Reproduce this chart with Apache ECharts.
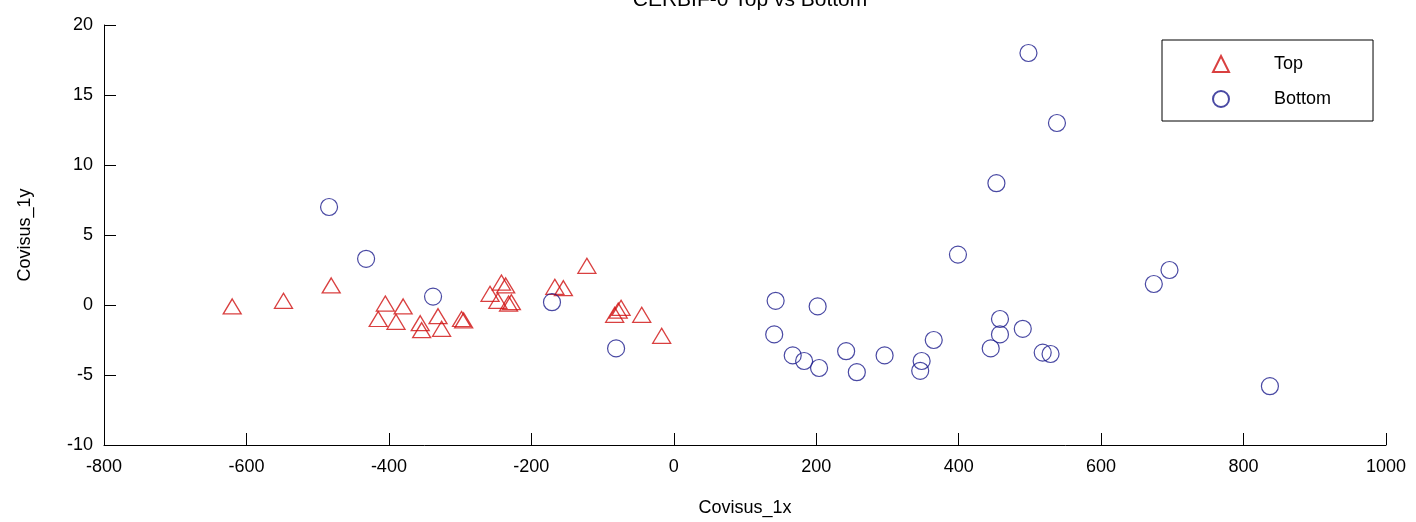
<!DOCTYPE html>
<html>
<head>
<meta charset="utf-8">
<script src="https://cdn.jsdelivr.net/npm/echarts@6/dist/echarts.min.js"></script>
<style>
  html, body { margin: 0; padding: 0; background: #fff; }
  #chart { width: 1416px; height: 522px; }
</style>
</head>
<body>
<div id="chart"></div>
<script>
// values
var topPoints = [
  [-620, -0.1], [-548, 0.3], [-481, 1.4], [-405, 0.1], [-380, -0.1],
  [-415, -1.0], [-390, -1.2], [-356, -1.3], [-354, -1.8], [-331, -0.8],
  [-326, -1.7], [-298, -1.0], [-295, -1.1], [-258, 0.8], [-242, 1.6],
  [-236, 1.4], [-247, 0.3], [-232, 0.1], [-228, 0.2], [-167, 1.3],
  [-155, 1.2], [-122, 2.8], [-83, -0.7], [-78, -0.4], [-74, -0.2],
  [-45, -0.7], [-17, -2.2]
];
var bottomPoints = [
  [-484, 7.0], [-432, 3.3], [-338, 0.6], [-171, 0.2], [-81, -3.1],
  [143, 0.3], [202, -0.1], [141, -2.1], [167, -3.6], [183, -4.0],
  [204, -4.5], [242, -3.3], [257, -4.8], [296, -3.6], [348, -4.0],
  [346, -4.7], [365, -2.5], [399, 3.6], [453, 8.7], [498, 18.0],
  [538, 13.0], [458, -1.0], [458, -2.1], [490, -1.7], [445, -3.1],
  [518, -3.4], [529, -3.5], [674, 1.5], [696, 2.5], [837, -5.8]
];
var seriesNames = ['Top', 'Bottom'];
var xTicks = { min: -800, max: 1000, step: 200 };
var yTicks = { min: -10, max: 20, step: 5 };

var font = 'Liberation Sans, Arial, sans-serif';
var chart = echarts.init(document.getElementById('chart'));
chart.setOption({
  animation: false,
  backgroundColor: '#fff',
  title: {
    text: 'CERBIF-0 Top vs Bottom',
    left: 745,
    textAlign: 'center',
    top: -15,
    textStyle: { fontFamily: font, fontSize: 21, fontWeight: 'normal', color: '#000' }
  },
  grid: { left: 104, right: 30, top: 25, bottom: 77 },
  legend: {
    data: seriesNames,
    orient: 'vertical',
    left: 1162,
    top: 40,
    padding: [15, 42, 13, 50],
    itemWidth: 16,
    itemHeight: 16,
    itemGap: 17,
    borderColor: '#000',
    borderWidth: 1,
    backgroundColor: '#fff',
    textStyle: { fontFamily: font, fontSize: 18, color: '#000', padding: [0, 0, 0, 40] }
  },
  xAxis: {
    type: 'value',
    min: xTicks.min,
    max: xTicks.max,
    interval: xTicks.step,
    name: 'Covisus_1x',
    nameLocation: 'middle',
    nameGap: 54,
    nameTextStyle: { fontFamily: font, fontSize: 18, color: '#000' },
    axisLine: { onZero: false, lineStyle: { color: '#000', width: 1 } },
    axisTick: { inside: true, length: 12, lineStyle: { color: '#000' } },
    axisLabel: { fontFamily: font, fontSize: 18, color: '#000', margin: 13,
      formatter: function (v) { return String(v); } },
    splitLine: { show: false }
  },
  yAxis: {
    type: 'value',
    min: yTicks.min,
    max: yTicks.max,
    interval: yTicks.step,
    name: 'Covisus_1y',
    nameLocation: 'middle',
    nameGap: 70,
    nameTextStyle: { fontFamily: font, fontSize: 18, color: '#000' },
    axisLine: { show: true, onZero: false, lineStyle: { color: '#000', width: 1 } },
    axisTick: { show: true, inside: true, length: 12, lineStyle: { color: '#000' } },
    axisLabel: { fontFamily: font, fontSize: 18, color: '#000', margin: 11 },
    splitLine: { show: false }
  },
  series: [
    {
      name: seriesNames[0],
      type: 'scatter',
      symbol: 'triangle',
      symbolSize: [18, 15],
      data: topPoints,
      itemStyle: { color: 'rgba(255,255,255,0)', borderColor: '#d01010', borderWidth: 1.3 }
    },
    {
      name: seriesNames[1],
      type: 'scatter',
      symbol: 'circle',
      symbolSize: 17,
      data: bottomPoints,
      itemStyle: { color: 'rgba(255,255,255,0)', borderColor: '#1c1c8c', borderWidth: 1.2 }
    }
  ]
});
</script>
</body>
</html>
